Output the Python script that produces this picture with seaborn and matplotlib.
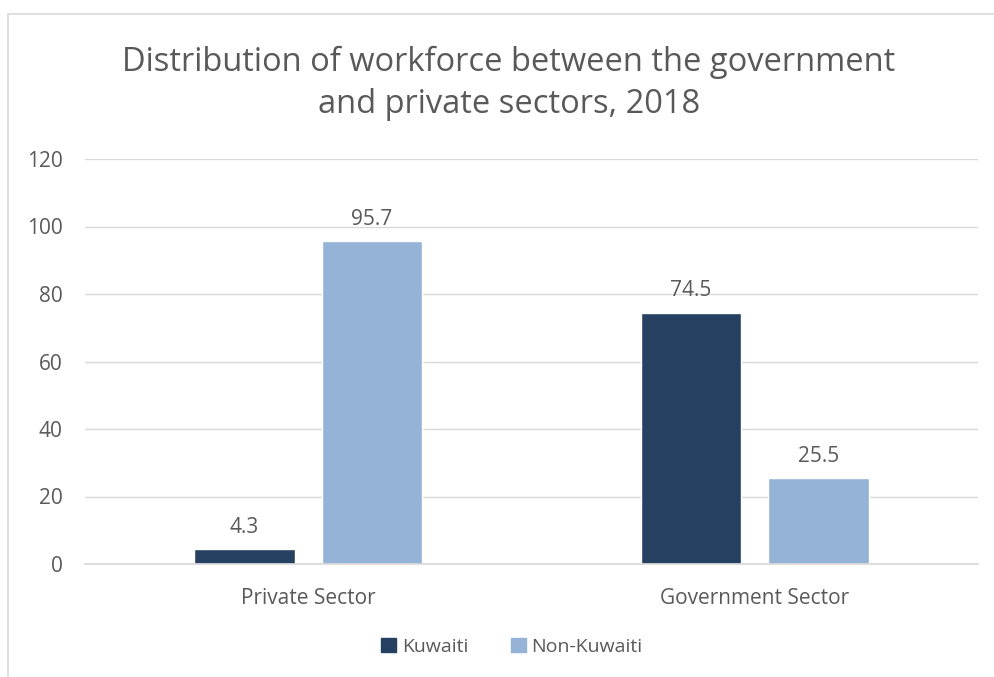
import matplotlib.pyplot as plt
import matplotlib.patches as mpatches
import pandas as pd
import seaborn as sns

# Data
sectors = ["Private Sector", "Government Sector"]
groups = ["Kuwaiti", "Non-Kuwaiti"]
kuwaiti = [4.3, 74.5]
non_kuwaiti = [95.7, 25.5]

df = pd.DataFrame({
    "Sector": sectors * 2,
    "Group": [groups[0]] * 2 + [groups[1]] * 2,
    "Share": kuwaiti + non_kuwaiti,
})

sns.set_theme(style="white")
plt.rcParams['font.family'] = ['Open Sans', 'DejaVu Sans']
text_col = "#595959"

fig = plt.figure(figsize=(9.95, 6.77), dpi=100)
ax = fig.add_axes([85 / 995, 1 - 564 / 677, 893 / 995, (564 - 159) / 677])

palette = {"Kuwaiti": "#264061", "Non-Kuwaiti": "#95B3D7"}
sns.barplot(data=df, x="Sector", y="Share", hue="Group", order=sectors,
            hue_order=groups, palette=palette, width=0.571, gap=0.215,
            saturation=1, ax=ax, legend=False)

for cont in ax.containers:
    ax.bar_label(cont, fmt="%.1f", padding=8, fontsize=15, color=text_col)

ax.set_ylim(0, 120)
ax.set_yticks(range(0, 121, 20))
ax.set_xlim(-0.5, 1.5)
ax.yaxis.grid(True, color="#D9D9D9", linewidth=1)
ax.set_axisbelow(True)
for s in ["top", "right", "left"]:
    ax.spines[s].set_visible(False)
ax.spines["bottom"].set_color("#D9D9D9")
ax.tick_params(axis="both", length=0, labelsize=15, labelcolor=text_col)
ax.tick_params(axis="y", pad=16)
ax.tick_params(axis="x", pad=17)
ax.set_xlabel("")
ax.set_ylabel("")

fig.text(509 / 995, 1 - 83 / 677,
         "Distribution of workforce between the government\nand private sectors, 2018",
         ha="center", va="center", fontsize=23.5, color=text_col, linespacing=1.36)

handles = [mpatches.Patch(color=palette[g], label=g) for g in groups]
fig.legend(handles=handles, loc="center", bbox_to_anchor=(512 / 995, 1 - 647 / 677),
           ncol=2, frameon=False, fontsize=14, labelcolor=text_col,
           handlelength=0.75, handleheight=0.75, handletextpad=0.3, columnspacing=2.2)

# outer chart border like the original
fig.patches.append(mpatches.Rectangle((8 / 995, -0.05), 1.1, 1 - 14 / 677 + 0.05,
                                      transform=fig.transFigure, fill=False,
                                      edgecolor="#D9D9D9", linewidth=1.2))

fig.savefig("out.png", dpi=100)
